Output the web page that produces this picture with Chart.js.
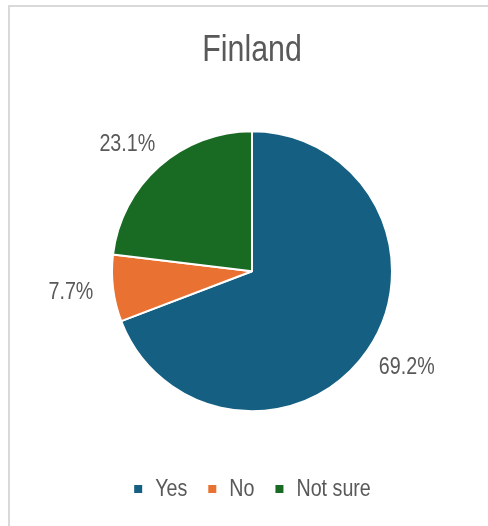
<!DOCTYPE html>
<html>
<head>
<meta charset="utf-8">
<title>Finland</title>
<script src="https://cdn.jsdelivr.net/npm/chart.js@4.4.1/dist/chart.umd.min.js"></script>
<style>
  html, body { margin: 0; padding: 0; background: #ffffff; }
  #wrap { position: relative; width: 488px; height: 526px; overflow: hidden; }
  #frame {
    position: absolute; left: 8px; top: 5px; right: -4px; bottom: -4px;
    border-left: 2px solid #d9d9d9; border-top: 2px solid #d9d9d9;
  }
  #pie { position: absolute; left: 0; top: 0; }
</style>
</head>
<body>
<div id="wrap">
  <div id="frame"></div>
  <canvas id="pie" width="488" height="526"></canvas>
</div>
<script>
const categories = ['Yes', 'No', 'Not sure'];
const shares = [69.2, 7.7, 23.1];
const sliceColors = ['#156082', '#E97132', '#196B24'];

const FONT = '"Liberation Sans", Arial, sans-serif';
const TEXT_GREY = '#595959';

// no narrow face installed, so squeeze all canvas text horizontally
const NARROW = 0.82;
const canvas = document.getElementById('pie');
const ctx2d = canvas.getContext('2d');
const rawFill = ctx2d.fillText.bind(ctx2d);
const rawMeasure = ctx2d.measureText.bind(ctx2d);
ctx2d.fillText = function (text, x, y, maxWidth) {
  this.save();
  this.translate(x, y);
  this.scale(NARROW, 1);
  if (maxWidth === undefined) rawFill(text, 0, 0);
  else rawFill(text, 0, 0, maxWidth / NARROW);
  this.restore();
};
ctx2d.measureText = function (text) {
  const m = rawMeasure(text);
  return {
    width: m.width * NARROW,
    actualBoundingBoxLeft: m.actualBoundingBoxLeft * NARROW,
    actualBoundingBoxRight: m.actualBoundingBoxRight * NARROW,
    actualBoundingBoxAscent: m.actualBoundingBoxAscent,
    actualBoundingBoxDescent: m.actualBoundingBoxDescent
  };
};

// percentage labels placed just outside each slice
const outsideLabels = {
  id: 'outsideLabels',
  afterDraw(chart) {
    const ctx = chart.ctx;
    const meta = chart.getDatasetMeta(0);
    const gap = 20;
    ctx.save();
    ctx.font = '24px ' + FONT;
    ctx.fillStyle = TEXT_GREY;
    ctx.textAlign = 'center';
    ctx.textBaseline = 'middle';
    meta.data.forEach((arc, i) => {
      const { x, y, startAngle, endAngle, outerRadius } = arc.getProps(['x', 'y', 'startAngle', 'endAngle', 'outerRadius'], true);
      const mid = (startAngle + endAngle) / 2;
      const text = shares[i].toFixed(1) + '%';
      const w = ctx.measureText(text).width;
      const h = 20;
      const cx = x + Math.cos(mid) * (outerRadius + gap + w / 2);
      const cy = y + Math.sin(mid) * (outerRadius + gap + h / 2);
      ctx.fillText(text, cx, cy);
    });
    ctx.restore();
  }
};

new Chart(canvas, {
  type: 'pie',
  data: {
    labels: categories,
    datasets: [{
      data: shares,
      backgroundColor: sliceColors,
      borderColor: '#ffffff',
      borderWidth: 2,
      radius: 140
    }]
  },
  options: {
    responsive: false,
    animation: false,
    layout: { padding: { left: 16, right: 0, top: 0, bottom: 15 } },
    plugins: {
      title: {
        display: true,
        text: 'Finland',
        color: TEXT_GREY,
        font: { family: FONT, size: 37, weight: 'normal' },
        padding: { top: 29, bottom: 12 }
      },
      legend: {
        position: 'bottom',
        labels: {
          color: TEXT_GREY,
          font: { family: FONT, size: 24 },
          boxWidth: 10,
          boxHeight: 10,
          padding: 20
        }
      },
      tooltip: { enabled: false }
    }
  },
  plugins: [outsideLabels]
});
</script>
</body>
</html>
